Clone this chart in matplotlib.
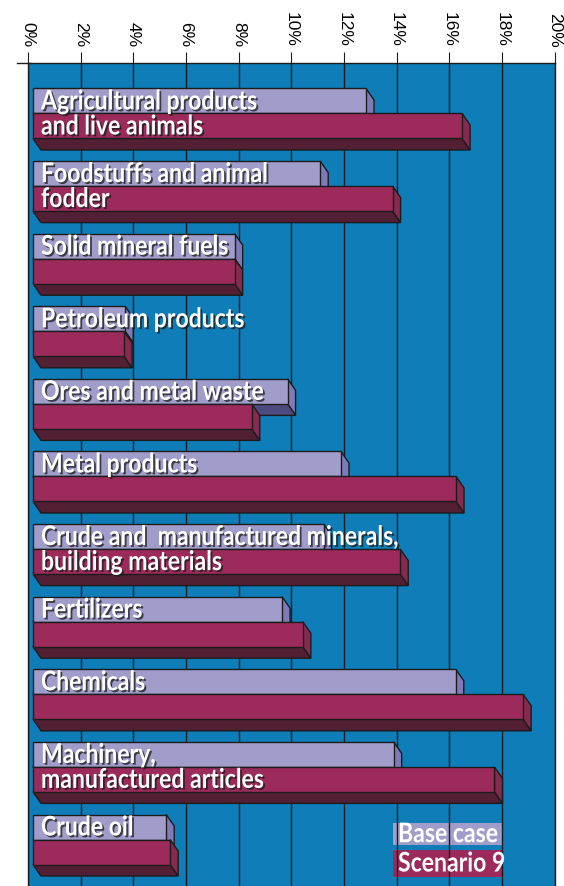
import matplotlib
matplotlib.use('Agg')
import matplotlib.pyplot as plt
import matplotlib.patheffects as pe
from matplotlib.patches import Polygon, Rectangle
from matplotlib.transforms import Affine2D

# data (share of tonnage, %)

categories = ['Agricultural products\nand live animals',
              'Foodstuffs and animal\nfodder',
              'Solid mineral fuels',
              'Petroleum products',
              'Ores and metal waste',
              'Metal products',
              'Crude and  manufactured minerals,\nbuilding materials',
              'Fertilizers',
              'Chemicals',
              'Machinery,\nmanufactured articles',
              'Crude oil']
base_case = [12.84, 11.10, 7.85, 3.69, 9.86, 11.89, 11.23, 9.65, 16.25, 13.89, 5.25]
scenario_9 = [16.49, 13.85, 7.85, 3.65, 8.50, 16.26, 14.14, 10.44, 18.81, 17.72, 5.40]
series_names = ['Base case', 'Scenario 9']
ticks = list(range(0, 21, 2))

# colours

bg = '#0f7db8'
edge = '#1c1c1c'
base_front, base_side, base_bottom = '#a19dca', '#7f7bb9', '#4c4a7e'
scen_front, scen_side, scen_bottom = '#9c2b5b', '#862a50', '#531f34'


# no condensed font is installed, so squeeze the glyphs sideways when drawing
class Squeeze(pe.AbstractPathEffect):
    def __init__(self, sx, inner):
        super().__init__()
        self.sx = sx
        self.inner = inner

    def draw_path(self, renderer, gc, tpath, affine, rgbFace=None):
        self.inner.draw_path(renderer, gc, tpath, Affine2D().scale(self.sx, 1) + affine, rgbFace)


sx = 0.85
label_font = ['Lato', 'DejaVu Sans']
label_size = 19.5
shadow = [Squeeze(sx, pe.SimplePatchShadow(offset=(1.3, -1.3), shadow_rgbFace='#1a1a1a', alpha=0.75)),
          Squeeze(sx, pe.Normal())]
plain = [Squeeze(sx, pe.Normal())]

W, H = 564, 886
fig = plt.figure(figsize=(W / 100, H / 100), dpi=100)
ax = fig.add_axes([28 / W, 0, 526.5 / W, (H - 63.3) / H])
ax.set_xlim(0, 20)
ax.set_ylim(H - 63.3, 0)     # y in pixels below the top of the plot area
ax.set_facecolor(bg)

px = 20 / 526.5              # data units per pixel along x
dx, dy = 8 * px, 11.5        # depth of the 3d bars
x0 = 5 * px                  # bars start a little right of the axis
bar_h = 25
step = 72.6
first = 25.2


def face(pts, color):
    ax.add_patch(Polygon(pts, closed=True, fc=color, ec=edge, lw=1, zorder=3, joinstyle='miter'))


for i, (name, b, s) in enumerate(zip(categories, base_case, scenario_9)):
    top = first + step * i
    mid = top + bar_h
    bot = mid + bar_h

    face([(b, top), (b + dx, top + dy), (b + dx, mid + dy), (b, mid)], base_side)
    face([(x0, mid), (b, mid), (b + dx, mid + dy), (x0 + dx, mid + dy)], base_bottom)
    face([(x0, top), (b, top), (b, mid), (x0, mid)], base_front)

    face([(x0, bot), (s, bot), (s + dx, bot + dy), (x0 + dx, bot + dy)], scen_bottom)
    face([(s, mid), (s + dx, mid + dy), (s + dx, bot + dy), (s, bot)], scen_side)
    face([(x0, mid), (s, mid), (s, bot), (x0, bot)], scen_front)

    for j, line in enumerate(name.split('\n')):
        ax.text(13 * px, top + 21 + j * bar_h, line, color='white', fontsize=label_size,
                fontweight='bold', family=label_font, va='baseline', ha='left',
                zorder=6, path_effects=shadow)

# legend boxes (grid lines run over them)
lx0, lx1 = (393 - 28) * px, (503 - 28) * px
for k, (name, color) in enumerate(zip(series_names, [base_front, scen_front])):
    y0 = 759.4 + k * 27.3
    ax.add_patch(Rectangle((lx0, y0), lx1 - lx0, 22.3 + k * 4.4, fc=color, ec='none', zorder=1))
    ax.text(lx0 + 5 * px, y0 + 19.5 + k * 2, name, color='white', fontsize=label_size,
            fontweight='bold', family=label_font, va='baseline', ha='left', zorder=6,
            path_effects=plain)

ax.grid(axis='x', color=edge, linewidth=1)
ax.grid(axis='y', visible=False)
ax.set_yticks([])
ax.xaxis.tick_top()
ax.set_xticks(ticks)
ax.set_xticklabels([str(t) + '%' for t in ticks], rotation=-90, fontsize=12.5,
                   family=['Liberation Sans', 'DejaVu Sans'], va='bottom', ha='center')
ax.tick_params(axis='x', direction='out', length=8, width=0.8, color=edge, pad=3.5)

ax.spines['bottom'].set_visible(False)
for side in ['left', 'top', 'right']:
    ax.spines[side].set_color(edge)
    ax.spines[side].set_linewidth(1)

# the top rule sticks out a little to the left
fig.add_artist(plt.Line2D([17 / W, 30 / W], [1 - 63.3 / H, 1 - 63.3 / H], color=edge, lw=1))

fig.savefig('out.png', dpi=100)
